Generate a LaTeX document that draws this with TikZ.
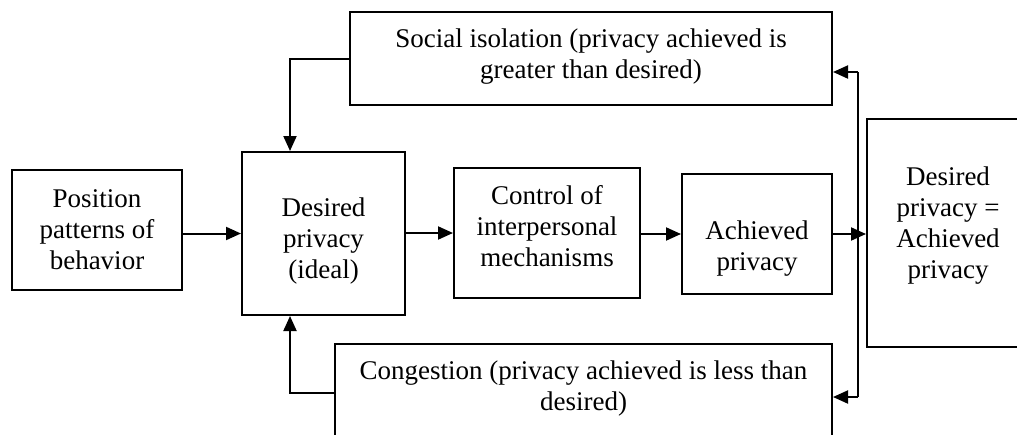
\documentclass[tikz,border=0pt]{standalone}
\usepackage{fontspec}
\setmainfont{Liberation Serif}
\usetikzlibrary{arrows.meta}
\begin{document}
\begin{tikzpicture}[x=1pt,y=-1pt,
  box/.style={draw, line width=2pt, inner sep=0pt},
  txt/.style={align=center, inner sep=0pt, font=\fontsize{27}{31}\selectfont},
  arr/.style={line width=2pt, -{Triangle[length=15pt,width=13pt]}},
  ln/.style={line width=2pt}]
\useasboundingbox (0,0) rectangle (1017,434);
\clip (0,0) rectangle (1017,434);
% boxes
\node[box, minimum width=170, minimum height=120] (pos) at (97,230) {};
\node[box, minimum width=163, minimum height=163] (des) at (323.5,233.5) {};
\node[box, minimum width=186, minimum height=130] (ctl) at (547,233) {};
\node[box, minimum width=150, minimum height=120] (ach) at (757,234) {};
\node[box, minimum width=162, minimum height=228] (eq) at (948,233) {};
\node[box, minimum width=482, minimum height=93] (soc) at (591,58.5) {};
\node[box, minimum width=497, minimum height=98] (con) at (583.5,393) {};
% texts
\node[txt] (posT) at ([yshift=0pt]pos.center) {Position\\patterns of\\behavior};
\node[txt] (desT) at ([yshift=-8pt]des.center) {Desired\\privacy\\(ideal)};
\node[txt] (ctlT) at ([yshift=7pt]ctl.center) {Control of\\interpersonal\\mechanisms};
\node[txt] (achT) at ([yshift=-15pt]ach.center) {Achieved\\privacy};
\node[txt] (eqT) at ([yshift=7pt]eq.center) {Desired\\privacy =\\Achieved\\privacy};
\node[txt] (socT) at ([yshift=2pt]soc.center) {Social isolation (privacy achieved is\\greater than desired)};
\node[txt] (conT) at ([yshift=4pt]con.center) {Congestion (privacy achieved is less than\\desired)};
% connectors
\coordinate (jt) at (858,72);
\coordinate (jb) at (858,397);
\draw[arr] (pos.east |- des) -- (des.west);
\draw[arr] (des.east |- ctl) -- (ctl.west);
\draw[arr] (ctl.east |- ach) -- (ach.west);
\draw[arr] (ach.east) -- (ach.east -| eq.west);
\draw[ln] (jt) -- (jb);
\draw[arr] (jt) -- (jt -| soc.east);
\draw[arr] (jb) -- (jb -| con.east);
\draw[arr] (soc.west) -| ([xshift=-33.5pt]des.north);
\draw[arr] (con.west) -| ([xshift=-33.5pt]des.south);
\end{tikzpicture}
\end{document}
